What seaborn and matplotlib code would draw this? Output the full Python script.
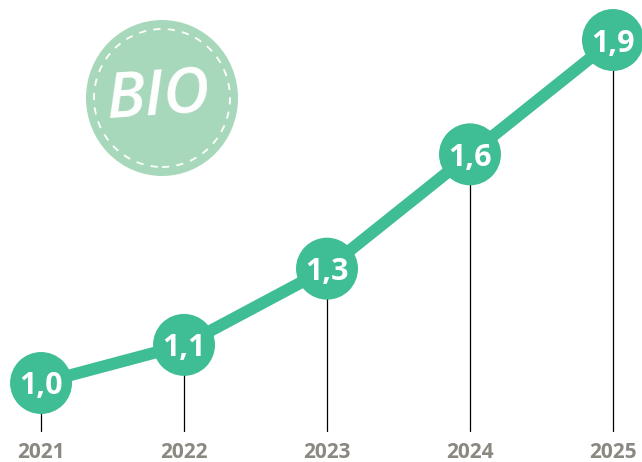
import numpy as np
import pandas as pd
import seaborn as sns
import matplotlib.pyplot as plt
import matplotlib.patches as mpatches

# values
years = [2021, 2022, 2023, 2024, 2025]
values = [1.0, 1.1, 1.3, 1.6, 1.9]
value_labels = ["1,0", "1,1", "1,3", "1,6", "1,9"]

green = "#3fbd95"
badge_green = "#a8d8bb"
year_grey = "#8b8781"

sns.set_style("white")
plt.rcParams['font.family'] = ['Open Sans', 'DejaVu Sans']

df = pd.DataFrame({'year': years, 'value': values})

fig = plt.figure(figsize=(6.42, 4.62), dpi=100)
ax = fig.add_axes([0, 0, 1, 1])

# thin drop lines from each point down to the year label
for x, y in zip(years, values):
    ax.plot([x, x], [y, 0.873], color='black', lw=0.9, zorder=1)

sns.lineplot(data=df, x='year', y='value', ax=ax, color=green, lw=8.6,
             solid_capstyle='round', zorder=2)
sns.scatterplot(data=df, x='year', y='value', ax=ax, color=green, s=1990,
                edgecolor='none', zorder=3, legend=False)

for x, y, lab in zip(years, values, value_labels):
    ax.text(x, y, lab, color='white', fontsize=22, fontweight='bold',
            ha='center', va='center_baseline', zorder=4)
    ax.text(x, 0.818, str(x), color=year_grey, fontsize=15, fontweight='bold',
            ha='center', va='center', zorder=4)

ax.set_xlim(2020.713, 2025.203)
ax.set_ylim(0.7927, 2.005)
ax.axis('off')

# BIO badge in the top-left corner
cx, cy = 162 / 642, 1 - 98 / 462
badge = mpatches.Ellipse((cx, cy), 152 / 642, 156 / 462, transform=ax.transAxes,
                         facecolor=badge_green, edgecolor='none', zorder=5)
ax.add_patch(badge)
stitch = mpatches.Ellipse((cx, cy), 136 / 642, 138 / 462, transform=ax.transAxes,
                          facecolor='none', edgecolor='white', lw=1.3,
                          linestyle=(0, (4, 4)), zorder=6)
ax.add_patch(stitch)
ax.text(cx - 0.005, cy, "BIO", transform=ax.transAxes, color='white', fontsize=46,
        fontweight='semibold', fontstyle='italic', ha='center', va='center',
        rotation=4, zorder=7)

fig.savefig("out.png", dpi=100)
